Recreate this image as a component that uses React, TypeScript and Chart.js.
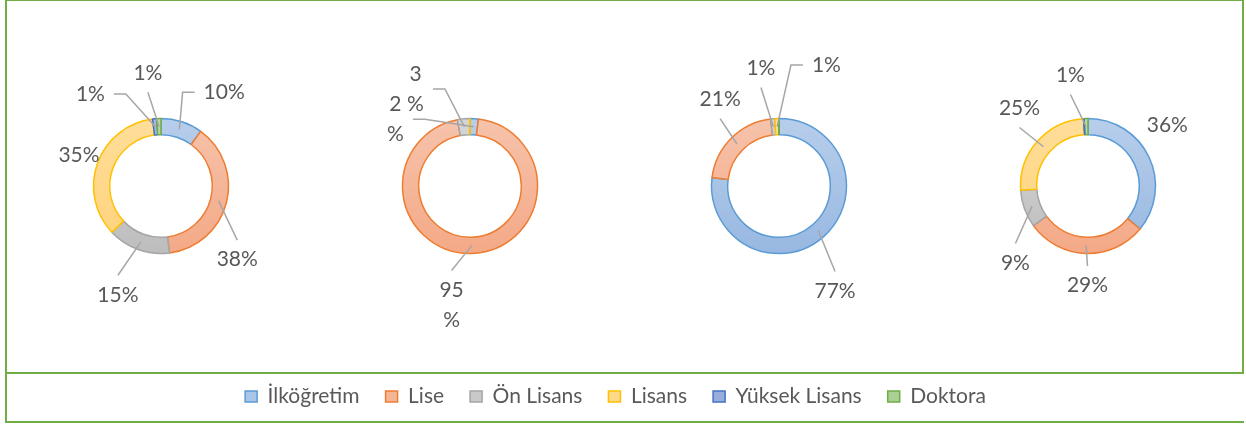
import React, { useEffect, useRef } from 'react';
import { Chart, registerables } from 'chart.js';

Chart.register(...registerables);
Chart.defaults.font.family = 'Lato';

// ---------- data ----------
const categories = ['İlköğretim', 'Lise', 'Ön Lisans', 'Lisans', 'Yüksek Lisans', 'Doktora'];
const series1 = [10, 38, 15, 35, 1, 1];
const series2 = [2, 95, 3, 0, null, null];
const series3 = [77, 21, 1, 1, 0, 0];
const series4 = [36, 29, 9, 25, 0, 1];

// ---------- styles ----------
const borderColors = ['#5B9BD5', '#ED7D31', '#A5A5A5', '#FFC000', '#4472C4', '#70AD47'];
const fillTop = ['#B7CEEB', '#F6C3AB', '#D6D6D6', '#FFDE9A', '#A6B8E2', '#BADAA5'];
const fillBottom = ['#98B8E1', '#F4A987', '#BDBDBD', '#FFD27A', '#8AA2D6', '#9FCA85'];
const legendFill = ['#A9C5E8', '#F5B597', '#C9C9C9', '#FFD98A', '#98ADDC', '#AAD193'];

const TEXT = '#595959';
const LEADER = '#A6A6A6';
const FONT = 21;
const RADIUS = 67.5;

// label placement (layout only): [angle deg clockwise from 12 o'clock, distance from centre, leader side]
type Place = [number, number, string] | null;
const place1: Place[] = [[34, 113, 'left'], [134, 106, 'top'], [201.6, 117, 'top'], [290.4, 87.5, 'none'], [322.5, 116, 'right'], [353.4, 114, 'bottom']];
const place2: Place[] = [[311.8, 100, 'right'], [188.8, 120.4, 'top'], [330.7, 111.3, 'right'], null, null, null];
const place3: Place[] = [[151.9, 119, 'top'], [325.9, 105, 'bottom'], [351.3, 119.4, 'bottom'], [21.4, 130, 'left'], null, null];
const place4: Place[] = [[52.5, 100, 'none'], [180.3, 99.5, 'top'], [223.3, 105.8, 'top'], [318.7, 103.8, 'bottom'], null, [351, 112.4, 'bottom']];

function makeGradient(chart: any, i: number) {
  const area = chart.chartArea;
  if (!area) return fillTop[i];
  const cy = (area.top + area.bottom) / 2;
  const g = chart.ctx.createLinearGradient(0, cy - RADIUS, 0, cy + RADIUS);
  g.addColorStop(0, fillTop[i]);
  g.addColorStop(1, fillBottom[i]);
  return g;
}

const labelPlugin = {
  id: 'pieLabels',
  afterDatasetsDraw(chart: any, _args: any, opts: any) {
    const placements: Place[] = opts.placements || [];
    const wrap: boolean = !!opts.wrap;
    const meta = chart.getDatasetMeta(0);
    const values = chart.data.datasets[0].data;
    const ctx = chart.ctx;
    ctx.save();
    // zero-valued slices: Excel still shows their outline as a radial line
    meta.data.forEach((arc: any, i: number) => {
      if (values[i] === 0) {
        const p = arc.getProps(['x', 'y', 'startAngle', 'innerRadius', 'outerRadius'], true);
        const c = Math.cos(p.startAngle), s = Math.sin(p.startAngle);
        ctx.strokeStyle = borderColors[i];
        ctx.lineWidth = 2;
        ctx.beginPath();
        ctx.moveTo(p.x + c * p.innerRadius, p.y + s * p.innerRadius);
        ctx.lineTo(p.x + c * p.outerRadius, p.y + s * p.outerRadius);
        ctx.stroke();
      }
    });
    ctx.font = `${FONT}px Lato`;
    const gap = 9, seg = 12;
    meta.data.forEach((arc: any, i: number) => {
      const v = values[i];
      const pl = placements[i];
      if (!v || !pl) return;
      const p = arc.getProps(['x', 'y', 'startAngle', 'endAngle', 'innerRadius', 'outerRadius'], true);
      const mid = (p.startAngle + p.endAngle) / 2;
      const rMid = (p.innerRadius + p.outerRadius) / 2;
      const ax = p.x + Math.cos(mid) * rMid;
      const ay = p.y + Math.sin(mid) * rMid;
      const th = (pl[0] * Math.PI) / 180 - Math.PI / 2;
      const lx = p.x + Math.cos(th) * pl[1];
      const ly = p.y + Math.sin(th) * pl[1];
      const lines = wrap ? [String(v), '%'] : [v + '%'];
      const lh = wrap ? 30 : FONT;
      const blockH = (lines.length - 1) * lh + FONT;
      const w = Math.max(...lines.map((t) => ctx.measureText(t).width));
      const left = lx - w / 2, right = lx + w / 2, top = ly - blockH / 2, bottom = ly + blockH / 2;
      let pts: number[][] | null = null;
      if (pl[2] === 'top') pts = [[lx, top - gap], [ax, ay]];
      else if (pl[2] === 'bottom') pts = [[lx, bottom + gap], [ax, ay]];
      else if (pl[2] === 'left') pts = [[left - gap, ly], [left - gap - seg, ly], [ax, ay]];
      else if (pl[2] === 'right') pts = [[right + gap, ly], [right + gap + seg, ly], [ax, ay]];
      if (pts) {
        ctx.strokeStyle = LEADER;
        ctx.lineWidth = 1.5;
        ctx.beginPath();
        ctx.moveTo(pts[0][0], pts[0][1]);
        for (let k = 1; k < pts.length; k++) ctx.lineTo(pts[k][0], pts[k][1]);
        ctx.stroke();
      }
      ctx.fillStyle = TEXT;
      ctx.textAlign = 'center';
      ctx.textBaseline = 'middle';
      lines.forEach((t, k) => ctx.fillText(t, lx, ly - ((lines.length - 1) * lh) / 2 + k * lh));
    });
    ctx.restore();
  },
};

function Doughnut({ values, placements, wrap, left }: { values: (number | null)[]; placements: Place[]; wrap?: boolean; left: number }) {
  const ref = useRef<HTMLCanvasElement>(null);
  useEffect(() => {
    const chart = new Chart(ref.current as HTMLCanvasElement, {
      type: 'doughnut',
      data: {
        labels: categories,
        datasets: [
          {
            data: values as any,
            backgroundColor: (c: any) => makeGradient(c.chart, c.dataIndex),
            borderColor: borderColors,
            borderWidth: 1.5,
          },
        ],
      },
      options: {
        responsive: false,
        animation: false,
        events: [],
        radius: RADIUS,
        cutout: '76%',
        layout: { padding: 0 },
        plugins: {
          legend: { display: false },
          tooltip: { enabled: false },
          pieLabels: { placements, wrap },
        } as any,
      } as any,
      plugins: [labelPlugin as any],
    });
    return () => chart.destroy();
  }, []);
  return (
    <canvas
      ref={ref}
      width={310}
      height={370}
      style={{ position: 'absolute', left, top: 1, width: 310, height: 370 }}
    />
  );
}

function Legend() {
  const ref = useRef<HTMLCanvasElement>(null);
  useEffect(() => {
    const chart = new Chart(ref.current as HTMLCanvasElement, {
      type: 'doughnut',
      data: {
        labels: categories,
        datasets: [{ data: series1, backgroundColor: legendFill, borderColor: borderColors, borderWidth: 0 }],
      },
      options: {
        responsive: false,
        animation: false,
        events: [],
        radius: 0,
        plugins: {
          tooltip: { enabled: false },
          legend: {
            display: true,
            position: 'top',
            labels: {
              boxWidth: 12,
              boxHeight: 11,
              padding: 26,
              color: TEXT,
              font: { family: 'Lato', size: 21 },
              generateLabels: () =>
                categories.map((c, i) => ({
                  text: c,
                  fillStyle: legendFill[i],
                  strokeStyle: borderColors[i],
                  lineWidth: 1.5,
                  hidden: false,
                  index: i,
                  fontColor: TEXT,
                })),
            },
          },
        },
      } as any,
    });
    return () => chart.destroy();
  }, []);
  return (
    <canvas
      ref={ref}
      width={1219}
      height={130}
      style={{ position: 'absolute', left: 6, top: 360, width: 1219, height: 130 }}
    />
  );
}

export default function App() {
  const green = '#70AD47';
  return (
    <div style={{ position: 'absolute', left: 0, top: 0, width: 1246, height: 425, background: '#fff', overflow: 'hidden' }}>
      <div
        style={{
          position: 'absolute', left: 5, top: -1, width: 1239, height: 375,
          boxSizing: 'border-box', border: `2px solid ${green}`,
        }}
      />
      <div
        style={{
          position: 'absolute', left: 5, top: 372, width: 1239, height: 51,
          boxSizing: 'border-box', borderLeft: `2px solid ${green}`, borderBottom: `2px solid ${green}`,
        }}
      />
      <Doughnut values={series1} placements={place1} left={6} />
      <Doughnut values={series2} placements={place2} wrap left={315} />
      <Doughnut values={series3} placements={place3} left={624} />
      <Doughnut values={series4} placements={place4} left={933} />
      <Legend />
    </div>
  );
}
